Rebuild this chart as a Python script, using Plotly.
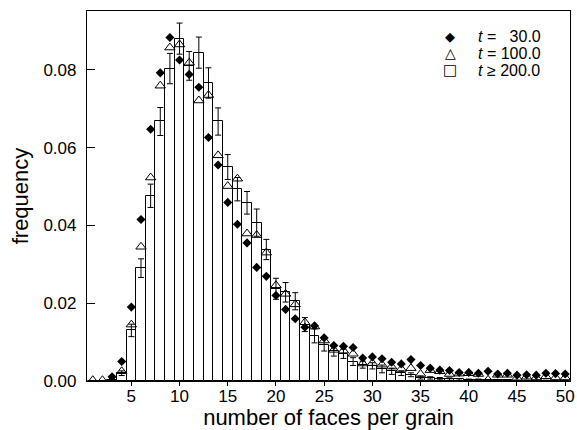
import plotly.graph_objects as go

faces = list(range(1, 51))

freq_t200 = [0.0, 0.0, 0.0003, 0.002, 0.013, 0.029, 0.0476, 0.0667, 0.0803, 0.088,
             0.081, 0.0844, 0.0766, 0.0667, 0.055, 0.0493, 0.0458, 0.0407, 0.0338, 0.0237,
             0.0228, 0.0205, 0.0145, 0.0116, 0.0092, 0.0077, 0.007, 0.005, 0.0042, 0.0039,
             0.0031, 0.0025, 0.002, 0.0016, 0.0009, 0.0008, 0.0006, 0.0005, 0.0004, 0.0003,
             0.0003, 0.0002, 0.0002, 0.0002, 0.0001, 0.0001, 0.0001, 0.0001, 0.0001, 0.0001]

err_t200 = [0.0, 0.0, 0.0002, 0.0006, 0.0016, 0.0024, 0.003, 0.0036, 0.0039, 0.004,
            0.0037, 0.004, 0.0039, 0.0035, 0.0032, 0.003, 0.0029, 0.0035, 0.0026, 0.0027,
            0.0025, 0.0022, 0.0018, 0.0018, 0.0015, 0.0013, 0.0012, 0.001, 0.0009, 0.0008,
            0.0010, 0.0008, 0.0006, 0.0005, 0.0004, 0.0003, 0.0003, 0.0003, 0.0002, 0.0002,
            0.0002, 0.0002, 0.0001, 0.0001, 0.0001, 0.0001, 0.0001, 0.0001, 0.0001, 0.0001]

freq_t100 = [0.0002, 0.0002, 0.0003, 0.0025, 0.0145, 0.0345, 0.0523, 0.0759, 0.0857, 0.0865,
             0.0818, 0.0721, 0.0735, 0.058, 0.0501, 0.052, 0.0379, 0.0375, 0.033, 0.0246,
             0.0224, 0.0197, 0.0151, 0.014, 0.0104, 0.008, 0.0078, 0.007, 0.0045, 0.0046,
             0.0042, 0.0037, 0.0031, 0.0033, 0.0018, 0.0028, 0.0025, 0.0018, 0.0019, 0.002,
             0.0018, 0.0003, 0.0016, 0.0016, 0.0008, 0.0011, 0.0009, 0.0012, 0.0009, 0.0009]

freq_t30 = [None, None, 0.0011, 0.005, 0.019, 0.0415, 0.0647, 0.0792, 0.0883, 0.0825,
            0.0788, 0.0755, 0.0626, 0.0555, 0.0459, 0.0403, 0.0355, 0.0292, 0.0269, 0.022,
            0.0184, 0.016, 0.0138, 0.0142, 0.0111, 0.0091, 0.0089, 0.0086, 0.0059, 0.0062,
            0.0057, 0.0048, 0.0044, 0.0055, 0.004, 0.0033, 0.0028, 0.0027, 0.0022, 0.0022,
            0.002, 0.0025, 0.0018, 0.002, 0.0015, 0.0016, 0.0015, 0.002, 0.0019, 0.0018]

x_ticks = [5, 10, 15, 20, 25, 30, 35, 40, 45, 50]
y_ticks = [0.00, 0.02, 0.04, 0.06, 0.08]

legend_symbols = ["\u25C6", "\u25B3", "\u25A1"]
legend_labels = ["<i>t</i> =\u00a0\u00a0\u00a030.0", "<i>t</i> = 100.0", "<i>t</i> \u2265 200.0"]

FONT = "Liberation Sans, Arial, Helvetica, sans-serif"

fig = go.Figure()

fig.add_trace(go.Bar(
    x=faces, y=freq_t200, width=1.0, name=legend_labels[2], showlegend=False,
    marker=dict(color="white", line=dict(color="black", width=1)),
    error_y=dict(type="data", array=err_t200, visible=True, color="black",
                 thickness=1, width=3),
))

fig.add_trace(go.Scatter(
    x=faces, y=freq_t100, mode="markers", name=legend_labels[1], showlegend=False,
    marker=dict(symbol="triangle-up-open", size=9, color="black",
                line=dict(color="black", width=1)),
))

fig.add_trace(go.Scatter(
    x=faces, y=freq_t30, mode="markers", name=legend_labels[0], showlegend=False,
    marker=dict(symbol="diamond", size=7, color="black"),
))

# manual legend (symbols + labels as text)
row_y = [0.932, 0.886, 0.840]
sym_sizes = [13, 14, 15]
for sym, lab, yy, ss in zip(legend_symbols, legend_labels, row_y, sym_sizes):
    fig.add_annotation(xref="paper", yref="paper", x=0.7516, y=yy, text=sym,
                       showarrow=False, xanchor="center", yanchor="middle",
                       font=dict(family="DejaVu Sans", size=ss, color="black"))
    fig.add_annotation(xref="paper", yref="paper", x=0.806, y=yy, text=lab,
                       showarrow=False, xanchor="left", yanchor="middle",
                       font=dict(family=FONT, size=16, color="black"))

fig.update_layout(
    width=577, height=430,
    margin=dict(l=87, r=7, t=11, b=49),
    paper_bgcolor="white", plot_bgcolor="white",
    font=dict(family=FONT, color="black", size=16),
    bargap=0,
    showlegend=False,
    xaxis=dict(
        range=[0.4, 50.5], tickmode="array", tickvals=x_ticks,
        ticks="outside", ticklen=4, tickcolor="black",
        showline=True, linecolor="black", linewidth=1.2, mirror=True,
        showgrid=False, zeroline=False,
        tickfont=dict(size=17), ticklabelstandoff=-5,
        title=dict(text="number of faces per grain", font=dict(size=22), standoff=11),
        automargin=False,
    ),
    yaxis=dict(
        range=[0, 0.0951], tickmode="array", tickvals=y_ticks, tickformat=".2f",
        ticks="inside", ticklen=8, tickcolor="black",
        showline=True, linecolor="black", linewidth=1.2, mirror=True,
        showgrid=False, zeroline=False,
        tickfont=dict(size=17), ticklabelstandoff=6,
        title=dict(text="frequency", font=dict(size=22), standoff=8),
    ),
)

fig.write_html("out.html")
